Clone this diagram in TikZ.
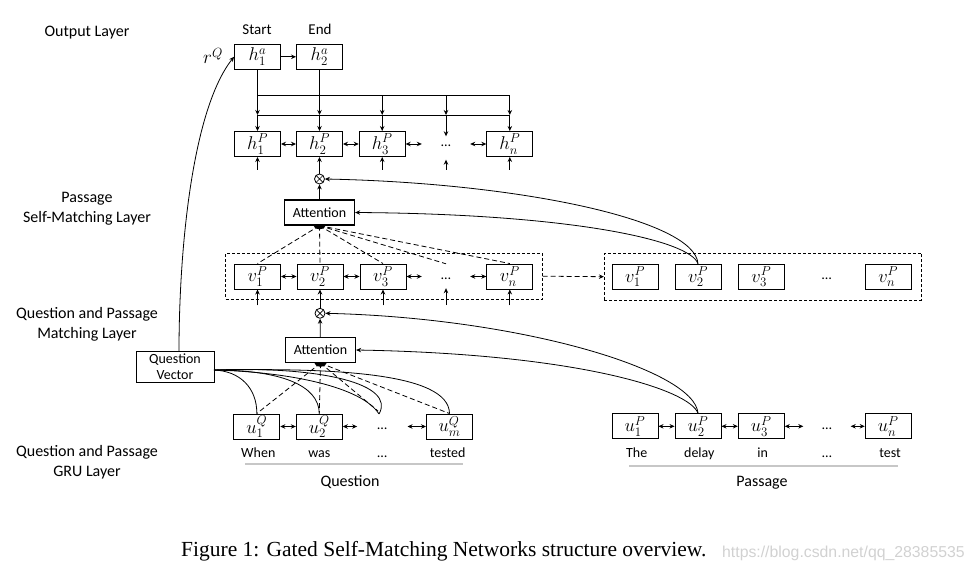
\RequirePackage{fix-cm}
\documentclass[tikz,border=0pt]{standalone}
\usepackage{fontspec}
\setmainfont{Carlito}
\newfontfamily\capfont{Liberation Serif}
\newfontfamily\wmfont{Liberation Sans}
\usetikzlibrary{arrows.meta,backgrounds}
\begin{document}
\begin{tikzpicture}[x=1pt,y=-1pt,
  box/.style={draw, fill=white, line width=0.95pt, minimum width=46pt, minimum height=25pt, inner sep=0pt, font=\fontsize{18.5}{18.5}\selectfont},
  dotsn/.style={minimum width=48pt, minimum height=25pt, inner sep=0pt, text height=6pt, text depth=0pt, font=\fontsize{14}{14}\selectfont},
  attbox/.style={draw, fill=white, line width=1.3pt, minimum width=70pt, minimum height=25pt, inner sep=0pt, font=\fontsize{14}{14}\selectfont},
  lbl/.style={font=\fontsize{16}{20}\selectfont, align=center},
  one/.style={font=\fontsize{16}{20}\selectfont, text height=11pt, text depth=3.5pt},
  word/.style={font=\fontsize{14}{14}\selectfont, text height=10pt, text depth=3pt},
  conn/.style={line width=0.8pt},
  arr/.style={conn, -{Stealth[length=5pt,width=4.5pt]}},
  darr/.style={conn, {Stealth[length=5pt,width=4.5pt]}-{Stealth[length=5pt,width=4.5pt]}},
  dsh/.style={conn, dash pattern=on 5pt off 3pt},
  dbox/.style={draw, line width=0.8pt, dash pattern=on 3pt off 2pt, inner sep=0pt},
  otim/.style={circle, draw, fill=white, line width=0.8pt, minimum size=10pt, inner sep=0pt,
    path picture={\draw[line width=0.7pt] (path picture bounding box.north west) -- (path picture bounding box.south east)
      (path picture bounding box.north east) -- (path picture bounding box.south west);}},
  glinestyle/.style={draw=black!22, line width=2pt}
]
\useasboundingbox (0,0) rectangle (974,577);

% ---------- left labels ----------
\node[lbl] (lOut) at (87,32.3) {Output Layer};
\node[lbl] (lSelf) at (87,208.3) {Passage\\Self-Matching Layer};
\node[lbl] (lMatch) at (87,324) {Question and Passage\\Matching Layer};
\node[lbl] (lGRU) at (87,462.3) {Question and Passage\\GRU Layer};

% ---------- output layer ----------
\node[box] (h1a) at (257.5,56.8) {$h_1^a$};
\node[box] (h2a) at (319.5,56.8) {$h_2^a$};
\node[font=\fontsize{15}{15}\selectfont, text height=10.5pt, text depth=3pt] (tStart) at (257,31) {Start};
\node[font=\fontsize{15}{15}\selectfont, text height=10.5pt, text depth=3pt] (tEnd) at (320,31) {End};
\node[font=\fontsize{19}{19}\selectfont] (rq) at (213,56) {$r^Q$};
\draw[arr] (h1a) -- (h2a);

% ---------- h^P row ----------
\node[box] (h1P) at (257.5,144) {$h_1^P$};
\node[box] (h2P) at (319.5,144) {$h_2^P$};
\node[box] (h3P) at (382.2,144) {$h_3^P$};
\node[dotsn] (hdots) at (446,144) {…};
\node[box] (hnP) at (509.8,144) {$h_n^P$};
\draw[darr] (h1P) -- (h2P);
\draw[darr] (h2P) -- (h3P);
\draw[darr] (h3P) -- (hdots);
\draw[darr] (hdots) -- (hnP);

\coordinate (L1s) at (257.5,95.7);
\coordinate (L1e) at (509.8,95.7);
\coordinate (L2s) at (257.5,115);
\coordinate (L2e) at (509.8,115);
\draw[conn] (h1a.south) -- (L1s) -- (L1e);
\draw[conn] (h2a.south) -- (h2a.south |- L1s);
\draw[conn] (L2s) -- (L2e);
\foreach \n in {h1P,h2P,h3P,hnP}{
  \draw[arr] (\n.north |- L1s) -- (\n.north |- L2s);
  \draw[arr] (\n.north |- L2s) -- (\n.north);
}
\draw[arr] (hdots.north |- L1s) -- (hdots.north |- L2s);
\draw[arr] (hdots.north |- L2s) -- ([yshift=-5pt]hdots.north);
\foreach \n in {h1P,h3P,hnP}{
  \draw[arr] ([yshift=-13pt]\n.south) -- (\n.south);
}
\draw[arr] ([yshift=-13pt]hdots.south) -- ([yshift=-3pt]hdots.south);

% ---------- self-matching attention ----------
\node[otim] (ot1) at (319.5,179) {};
\node[attbox] (att1) at (319.5,212.5) {Attention};
\draw[arr] (ot1) -- (h2P);
\draw[arr] (att1) -- (ot1);
\begin{scope}[on background layer]
  \fill (att1.south) ellipse [x radius=6pt, y radius=3.5pt];
\end{scope}

% ---------- v^P rows ----------
\node[dbox, minimum width=316.6pt, minimum height=45.7pt] (grp1) at (384,276.2) {};
\node[box] (v1) at (257.5,276.5) {$v_1^P$};
\node[box] (v2) at (320,276.5) {$v_2^P$};
\node[box] (v3) at (383,276.5) {$v_3^P$};
\node[dotsn] (vdots) at (446,276.5) {…};
\node[box] (vn) at (509.8,276.5) {$v_n^P$};
\draw[darr] (v1) -- (v2);
\draw[darr] (v2) -- (v3);
\draw[darr] (v3) -- (vdots);
\draw[darr] (vdots) -- (vn);
\foreach \n in {v1,v2,v3,vdots,vn}{
  \draw[dsh] (att1.south) -- (\n.north);
}
\foreach \n in {v1,v3,vn}{
  \draw[arr] ([yshift=-16pt]\n.south) -- (\n.south);
}
\draw[arr] ([yshift=-16pt]vdots.south) -- ([yshift=1pt]vdots.south);

\node[dbox, minimum width=317.4pt, minimum height=46.7pt] (grp2) at (763,276.7) {};
\node[box] (vr1) at (635,276.7) {$v_1^P$};
\node[box] (vr2) at (698,276.7) {$v_2^P$};
\node[box] (vr3) at (761.3,276.7) {$v_3^P$};
\node[dotsn] (vrdots) at (826.7,276.7) {…};
\node[box] (vrn) at (888.2,276.7) {$v_n^P$};
\draw[dsh, -{Stealth[length=5pt,width=4.5pt]}] (grp1.east) -- (grp2.west);

\draw[arr] (vr2.north) .. controls (695,220) and (520,183) .. (ot1.east);
\draw[arr] (vr2.north) .. controls (690,240) and (570,214) .. (att1.east);

% ---------- question-passage matching ----------
\node[otim] (ot2) at (320,313.3) {};
\node[attbox] (att2) at (320.5,350) {Attention};
\draw[arr] (ot2) -- (v2);
\draw[arr] (att2) -- (ot2);
\begin{scope}[on background layer]
  \fill (att2.south) ellipse [x radius=6pt, y radius=3.5pt];
\end{scope}

\node[draw, line width=0.9pt, minimum width=78pt, minimum height=30.6pt, inner sep=0pt, align=center,
      font=\fontsize{14}{16}\selectfont] (qv) at (175,367) {Question\\Vector};
\draw[arr] ([xshift=4pt]qv.north) .. controls (179,250) and (192,110) .. (h1a.west);

% ---------- question GRU ----------
\node[box] (uq1) at (256.8,426.5) {$u_1^Q$};
\node[box] (uq2) at (319.3,426.5) {$u_2^Q$};
\node[dotsn, minimum width=50pt] (uqdots) at (382.3,426.5) {…};
\node[box] (uqm) at (449.5,426.5) {$u_m^Q$};
\draw[darr] (uq1) -- (uq2);
\draw[darr] (uq2) -- (uqdots);
\draw[darr] (uqdots) -- (uqm);

\coordinate (qvo) at (214,370);
\coordinate (qdp) at (379,414);
\draw[conn] (qvo) .. controls (240,371) and (257,388) .. (uq1.north);
\draw[conn] (qvo) .. controls (280,370) and (319,385) .. (uq2.north);
\draw[conn] (qvo) .. controls (290,372) and (362,387) .. (qdp);
\draw[conn] (qvo) .. controls (322,366) and (396,384) .. (qdp);
\draw[conn] (qvo) .. controls (330,368) and (449,372) .. (uqm.north);

\coordinate (qdd) at (378,411);
\draw[dsh] (att2.south) -- (uq1.north);
\draw[dsh] (att2.south) -- (uq2.north);
\draw[dsh] (att2.south) -- (qdd);
\draw[dsh] (att2.south) -- (uqm.north);

\node[word] (wWhen) at (258.3,454) {When};
\node[word] (wWas) at (319.3,454) {was};
\node[word] (wQd) at (382.3,454) {…};
\node[word] (wTested) at (447.7,454) {tested};
\coordinate (qls) at (245,464);
\coordinate (qle) at (463,464);
\draw[glinestyle] (qls) -- (qle);
\node[one] (tQuestion) at (350,483) {Question};

% ---------- passage GRU ----------
\node[box] (up1) at (635,426.3) {$u_1^P$};
\node[box] (up2) at (698,426.3) {$u_2^P$};
\node[box] (up3) at (761.3,426.3) {$u_3^P$};
\node[dotsn, minimum width=47pt] (updots) at (827,426.3) {…};
\node[box] (upn) at (888.2,426.3) {$u_n^P$};
\draw[darr] (up1) -- (up2);
\draw[darr] (up2) -- (up3);
\draw[darr] (up3) -- (updots);
\draw[darr] (updots) -- (upn);

\draw[arr] (up2.north) .. controls (695,370) and (520,318) .. (ot2.east);
\draw[arr] (up2.north) .. controls (690,390) and (580,354) .. (att2.east);

\node[word] (wThe) at (636.7,454) {The};
\node[word] (wDelay) at (699.3,454) {delay};
\node[word] (wIn) at (762.7,454) {in};
\node[word] (wPd) at (827,454) {…};
\node[word] (wTest) at (890,454) {test};
\coordinate (pls) at (629.3,465.7);
\coordinate (ple) at (898.3,465.7);
\draw[glinestyle] (pls) -- (ple);
\node[one] (tPassage) at (762,483) {Passage};

% ---------- caption ----------
\node[anchor=west, inner sep=0pt, font=\capfont\fontsize{21.5}{21.5}\selectfont] (cap) at (181,551)
  {Figure 1: Gated Self-Matching Networks structure overview.};
\node[anchor=west, inner sep=0pt, text=black!18, font=\wmfont\fontsize{15.8}{15.8}\selectfont] (wm) at (722,553)
  {https://blog.csdn.net/qq\_28385535};
\end{tikzpicture}
\end{document}
